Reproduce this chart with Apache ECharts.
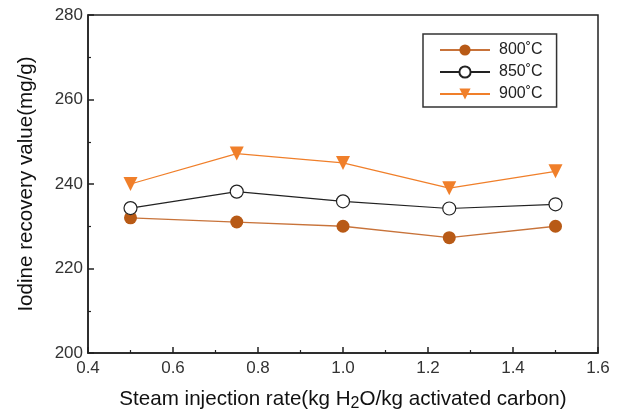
<!DOCTYPE html>
<html><head><meta charset="utf-8">
<script src="https://cdn.jsdelivr.net/npm/echarts@6/dist/echarts.min.js"></script>
<style>html,body{margin:0;padding:0;background:#fff}#c{width:620px;height:410px}</style>
</head><body><div id="c"></div>
<script>
const xValues = [0.5, 0.75, 1.0, 1.25, 1.5];
const s800 = [232, 231, 230, 227.3, 230];
const s850 = [234.3, 238.2, 235.9, 234.2, 235.2];
const s900 = [240, 247.2, 245, 239, 243];
const names = ['800˚C', '850˚C', '900˚C'];

const font = 'Liberation Sans, Arial, sans-serif';
const pair = a => xValues.map((x, i) => [x, a[i]]);
const chart = echarts.init(document.getElementById('c'));
chart.setOption({
  animation: false,
  grid: {left: 88, right: 22, top: 15, bottom: 57, outerBoundsMode: 'none', containLabel: false,
         show: true, borderColor: '#222', borderWidth: 1.5},
  legend: {
    left: 423, top: 34, orient: 'vertical', itemWidth: 50, itemHeight: 14, itemGap: 6,
    borderColor: '#333', borderWidth: 1.5, padding: [8, 14, 5, 16],
    textStyle: {fontFamily: font, fontSize: 16, color: '#222', padding: [0, 0, 0, 4]},
    data: names
  },
  xAxis: {
    type: 'value', min: 0.4, max: 1.6, interval: 0.2,
    axisLine: {lineStyle: {color: '#222', width: 1.5}},
    axisTick: {inside: true, length: 6, lineStyle: {color: '#222', width: 1.5}},
    minorTick: {show: true, splitNumber: 2, length: 3, lineStyle: {color: '#222', width: 1.2}},
    splitLine: {show: false},
    axisLabel: {fontFamily: font, fontSize: 17, color: '#333', margin: 7, formatter: v => v.toFixed(1)},
    name: 'Steam injection rate(kg H{sub|2}O/kg activated carbon)',
    nameLocation: 'middle', nameGap: 33,
    nameTextStyle: {fontFamily: font, fontSize: 20.6, color: '#111',
      rich: {sub: {fontFamily: font, fontSize: 16, color: '#111', padding: [10, 0, 0, 0]}}}
  },
  yAxis: {
    type: 'value', min: 200, max: 280, interval: 20,
    axisLine: {show: true, lineStyle: {color: '#222', width: 1.5}},
    axisTick: {show: true, inside: true, length: 6, lineStyle: {color: '#222', width: 1.5}},
    minorTick: {show: true, splitNumber: 2, length: 3, lineStyle: {color: '#222', width: 1.2}},
    splitLine: {show: false},
    axisLabel: {fontFamily: font, fontSize: 17, color: '#333', margin: 5},
    name: 'Iodine recovery value(mg/g)', nameLocation: 'middle', nameGap: 51,
    nameTextStyle: {fontFamily: font, fontSize: 20.6, color: '#111'}
  },
  series: [
    {name: names[0], type: 'line', data: pair(s800), symbol: 'circle', symbolSize: 13,
     itemStyle: {color: '#b85a16'}, lineStyle: {color: '#c8733a', width: 1.3}},
    {name: names[1], type: 'line', data: pair(s850), symbol: 'circle', symbolSize: 13,
     itemStyle: {color: '#fff', borderColor: '#222', borderWidth: 1.2}, lineStyle: {color: '#222', width: 1.2}},
    {name: names[2], type: 'line', data: pair(s900), symbol: 'triangle', symbolRotate: 180, symbolSize: 14,
     itemStyle: {color: '#f07f2a'}, lineStyle: {color: '#f07f2a', width: 1.3}}
  ]
});
</script></body></html>
